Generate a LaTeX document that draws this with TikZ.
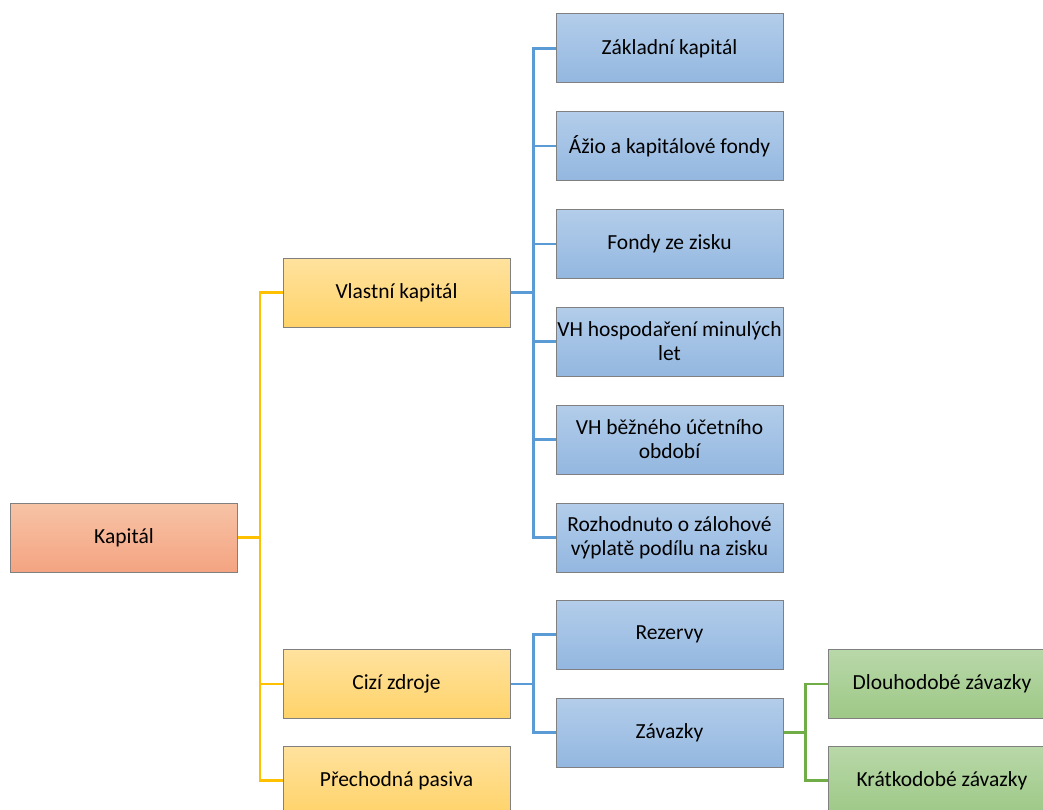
\documentclass[tikz,border=0pt]{standalone}
\usepackage{fontspec}
\setmainfont{Carlito}
\usepackage{xcolor}
\definecolor{orangetop}{HTML}{F7C3A6}
\definecolor{orangebot}{HTML}{F4A481}
\definecolor{goldtop}{HTML}{FFE29E}
\definecolor{goldbot}{HTML}{FFD36A}
\definecolor{bluetop}{HTML}{B3CDEA}
\definecolor{bluebot}{HTML}{93B7E0}
\definecolor{greentop}{HTML}{B9D8A9}
\definecolor{greenbot}{HTML}{9DC886}
\definecolor{goldline}{HTML}{FFC000}
\definecolor{blueline}{HTML}{5B9BD5}
\definecolor{greenline}{HTML}{70AD47}
\usetikzlibrary{calc}

\begin{document}
\begin{tikzpicture}[
  x=1pt, y=-1pt,
  box/.style={draw=black!50,line width=1pt,minimum width=227pt,minimum height=69pt,align=center,
    font=\fontsize{21.5}{24}\selectfont,inner sep=1pt},
  rootbox/.style={box,top color=orangetop,bottom color=orangebot},
  midbox/.style={box,top color=goldtop,bottom color=goldbot},
  leafbox/.style={box,top color=bluetop,bottom color=bluebot},
  subbox/.style={box,top color=greentop,bottom color=greenbot},
  goldlink/.style={draw=goldline,line width=2.6pt},
  bluelink/.style={draw=blueline,line width=2.6pt},
  greenlink/.style={draw=greenline,line width=2.6pt}
]
  \useasboundingbox (0,0) rectangle (1043,810);
  \clip (0,0) rectangle (1043,810);

  % Root
  \node[rootbox] (kapital) at (124,537.5) {Kapitál};

  % Second level
  \node[midbox] (vlastni) at (396.5,292.5) {Vlastní kapitál};
  \node[midbox] (cizi) at (396.5,684) {Cizí zdroje};
  \node[midbox] (prechodna) at (396.5,780.5) {Přechodná pasiva};

  % Items of Vlastni kapital
  \node[leafbox] (zakladni) at (669.5,48.5) {Základní kapitál};
  \node[leafbox] (azio) at (669.5,146) {Ážio a kapitálové fondy};
  \node[leafbox] (fondy) at (669.5,244) {Fondy ze zisku};
  \node[leafbox] (vhminule) at (669.5,341.5) {VH hospodaření minulých\\let};
  \node[leafbox] (vhbezne) at (669.5,439.5) {VH běžného účetního\\období};
  \node[leafbox] (rozhodnuto) at (669.5,537.5) {Rozhodnuto o zálohové\\výplatě podílu na zisku};

  % Items of Cizi zdroje
  \node[leafbox] (rezervy) at (669.5,634.5) {Rezervy};
  \node[leafbox] (zavazky) at (669.5,732.5) {Závazky};

  % Items of Zavazky
  \node[subbox] (dlouhodobe) at (942,684) {Dlouhodobé závazky};
  \node[subbox] (kratkodobe) at (942,780.5) {Krátkodobé závazky};

  % Connectors
  \draw[goldlink] (kapital.east) -- ++(22,0) |- (vlastni.west);
  \draw[goldlink] (kapital.east) -- ++(22,0) |- (cizi.west);
  \draw[goldlink] (kapital.east) -- ++(22,0) |- (prechodna.west);

  \draw[bluelink] (vlastni.east) -- ++(23,0) |- (zakladni.west);
  \draw[bluelink] (vlastni.east) -- ++(23,0) |- (azio.west);
  \draw[bluelink] (vlastni.east) -- ++(23,0) |- (fondy.west);
  \draw[bluelink] (vlastni.east) -- ++(23,0) |- (vhminule.west);
  \draw[bluelink] (vlastni.east) -- ++(23,0) |- (vhbezne.west);
  \draw[bluelink] (vlastni.east) -- ++(23,0) |- (rozhodnuto.west);

  \draw[bluelink] (cizi.east) -- ++(23,0) |- (rezervy.west);
  \draw[bluelink] (cizi.east) -- ++(23,0) |- (zavazky.west);

  \draw[greenlink] (zavazky.east) -- ++(22,0) |- (dlouhodobe.west);
  \draw[greenlink] (zavazky.east) -- ++(22,0) |- (kratkodobe.west);
\end{tikzpicture}
\end{document}
